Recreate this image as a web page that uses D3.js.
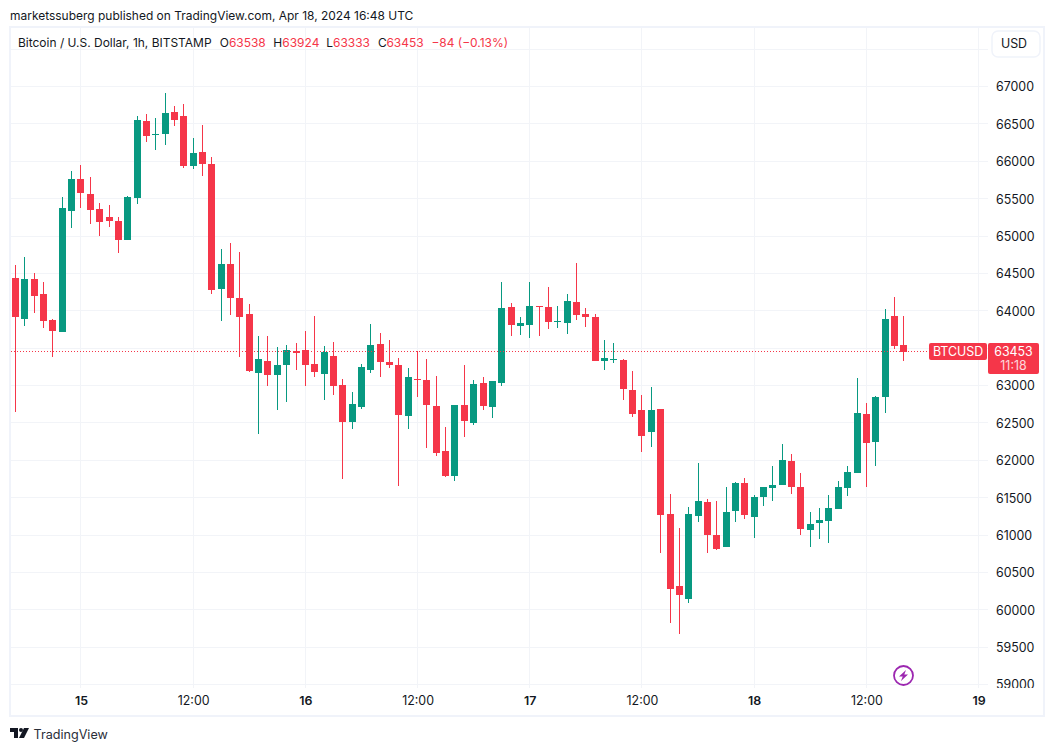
<!DOCTYPE html>
<html><head><meta charset="utf-8">
<script src="https://cdn.jsdelivr.net/npm/d3@7"></script>
<style>
html,body{margin:0;padding:0;background:#fff}
svg{display:block}
text{font-family:Inter,"Liberation Sans",sans-serif;fill:#131722}
</style></head><body>
<svg id="c" width="1054" height="751"></svg>
<script>
const priceTicks=[59000,59500,60000,60500,61000,61500,62000,62500,63000,64000,64500,65000,65500,66000,66500,67000];
const gridOnlyTicks=[63500,67500];
const timeTickBars=[7,19,31,43,55,67,79,91,103];
const timeTickLabels=["15","12:00","16","12:00","17","12:00","18","12:00","19"];
const open=[64437,63888,64423,64223,63875,63715,65332,65760,65560,65359,65252,65199,64945,65506,66536,66349,66362,66656,66603,65934,66121,65961,64289,64624,64169,63955,63166,63327,63140,63273,63461,63474,63287,63153,63394,63006,62511,62712,63206,63554,63313,63273,62591,63086,63073,62725,62123,61789,62739,62498,63033,62712,63033,64049,63795,63808,64058,64049,63848,63835,64116,63955,63915,63327,63340,63340,62939,62672,62377,62685,61281,60318,60145,61254,61442,61001,60841,61322,61696,61242,61509,61630,61670,61991,61643,61068,61162,61188,61349,61630,61830,62619,62245,62846,63929,63538];
const high=[64610,64717,64503,64383,63888,65520,65867,65947,65787,65439,65413,65252,65533,66603,66629,66576,66910,66736,66763,66308,66482,66054,64824,64905,64784,64089,63661,63661,63514,63541,63567,63728,63929,63527,63581,63086,62912,63287,63822,63701,63608,63367,63233,63461,63354,63126,62444,62739,63273,63073,63113,63059,64383,64102,63915,64383,64062,64316,64062,64223,64637,64035,63955,63608,63567,63354,63193,62872,62979,62685,61548,61094,61375,61963,61482,61456,61643,61710,61763,61536,61643,61924,62218,62084,61830,61309,61362,61536,61723,61924,63100,62766,62860,64023,64183,63924];
const low=[62645,63795,63969,63768,63380,63715,65105,65373,65159,64998,65118,64771,64945,65426,66255,66148,66215,66469,65907,65894,65800,64223,63862,63942,63380,63180,62351,62993,62672,62779,63206,62993,63113,62805,62872,61749,62418,62685,63166,63113,63233,61655,62418,62845,62164,62057,61776,61722,62311,62471,62672,62565,62993,63661,63674,63634,63661,63755,63768,63688,63875,63781,63327,63206,63300,62805,62578,62110,62177,60760,59824,59677,60091,61174,60760,60801,60841,61175,61215,60961,61389,61456,61670,61549,61001,60841,60948,60894,61349,61523,61830,61643,61924,62632,63488,63333];
const close=[63915,64423,64196,63862,63728,65373,65760,65573,65346,65185,65199,64945,65520,66549,66335,66362,66643,66549,65934,66108,65961,64276,64624,64169,63915,63193,63354,63140,63273,63474,63434,63273,63180,63447,62993,62511,62752,63247,63541,63313,63273,62605,63113,63073,62739,62097,61789,62739,62525,63019,62725,63059,64035,63808,63835,64062,64044,63848,63862,64129,63942,63915,63327,63367,63354,62952,62618,62324,62672,61268,60278,60198,61281,61455,61001,60814,61309,61696,61269,61509,61643,61670,62004,61643,61081,61148,61202,61362,61643,61843,62632,62231,62846,63889,63528,63453];
const lastClose=63453;

const W=1054,H=751;
const paneL=11,paneR=988,paneT=28,paneB=688;
const RED="#f53649",GREEN="#089981",GRID="#f2f4f8",FRAME="#f0f3fa";
const svg=d3.select("#c");
const x=d3.scaleLinear().domain([0,95]).range([15.5,903.8]);
const y=d3.scaleLinear().domain([59000,67000]).range([684.5,86.5]);

svg.append("clipPath").attr("id","pane").append("rect").attr("x",paneL).attr("y",paneT).attr("width",W-paneL-11).attr("height",paneB-paneT);

// header text
svg.append("text").attr("x",10).attr("y",20).attr("font-size",11.98).text("marketssuberg published on TradingView.com, Apr 18, 2024 16:48 UTC");

// grid
const grid=svg.append("g").attr("clip-path","url(#pane)");
grid.selectAll("line.h").data(priceTicks.concat(gridOnlyTicks)).join("line").attr("class","h")
 .attr("x1",paneL).attr("x2",paneR)
 .attr("y1",d=>Math.floor(y(d))+.5).attr("y2",d=>Math.floor(y(d))+.5)
 .attr("stroke",GRID).attr("stroke-width",1);
grid.selectAll("line.v").data(timeTickBars).join("line").attr("class","v")
 .attr("x1",d=>Math.floor(x(d))+.5).attr("x2",d=>Math.floor(x(d))+.5)
 .attr("y1",paneT).attr("y2",paneB)
 .attr("stroke",GRID).attr("stroke-width",1);

// frame
svg.append("rect").attr("x",10).attr("y",27).attr("width",1034).attr("height",689)
 .attr("fill","none").attr("stroke",FRAME).attr("stroke-width",2);

// candles
const bars=d3.range(open.length);
const col=i=>close[i]>=open[i]?GREEN:RED;
const g=svg.append("g").attr("shape-rendering","crispEdges");
g.selectAll("rect.w").data(bars).join("rect").attr("class","w")
 .attr("x",i=>Math.floor(x(i))).attr("width",1)
 .attr("y",i=>Math.round(y(high[i])))
 .attr("height",i=>Math.max(1,Math.round(y(low[i]))-Math.round(y(high[i]))))
 .attr("fill",col);
g.selectAll("rect.b").data(bars).join("rect").attr("class","b")
 .attr("x",i=>Math.floor(x(i))-3).attr("width",7)
 .attr("y",i=>Math.round(y(Math.max(open[i],close[i]))))
 .attr("height",i=>Math.max(1,Math.round(y(Math.min(open[i],close[i])))-Math.round(y(Math.max(open[i],close[i])))))
 .attr("fill",col);

// last price line
svg.append("line").attr("x1",11).attr("x2",929)
 .attr("y1",Math.floor(y(lastClose))+.5).attr("y2",Math.floor(y(lastClose))+.5)
 .attr("stroke",RED).attr("stroke-width",1).attr("stroke-dasharray","1 2");

// price axis
svg.append("clipPath").attr("id","priceclip").append("rect").attr("x",-10).attr("y",paneT).attr("width",60).attr("height",paneB-paneT);
const yAxis=d3.axisRight(y).tickValues(priceTicks).tickSize(0).tickPadding(0).tickFormat(d3.format("d"));
const ya=svg.append("g").attr("transform","translate(996,0)").call(yAxis);
ya.select(".domain").remove();
ya.selectAll("text").attr("font-size",12.4).attr("fill","#131722").attr("font-family","Inter").attr("x",0).attr("dy","0.36em");
ya.attr("clip-path","url(#priceclip)");

// time axis
const xAxis=d3.axisBottom(x).tickValues(timeTickBars).tickSize(0).tickPadding(0).tickFormat((d,i)=>timeTickLabels[i]);
const xa=svg.append("g").attr("transform","translate(0,696)").call(xAxis);
xa.select(".domain").remove();
xa.selectAll("text").attr("font-size",12.4).attr("fill","#131722").attr("font-family","Inter").attr("y",0).attr("dy","0.71em")
 .attr("font-weight",(d,i)=>timeTickLabels[i].includes(":")?400:600);

// legend
const legend=svg.append("text").attr("x",18).attr("y",47).attr("font-size",11.98);
legend.append("tspan").text("Bitcoin / U.S. Dollar, 1h, BITSTAMP");
[["O","63538",219.7,228.9],["H","63924",273.2,282.3],["L","63333",326.2,333],["C","63453",378,386.4]].forEach(p=>{
  legend.append("tspan").attr("x",p[2]).text(p[0]);
  legend.append("tspan").attr("x",p[3]).style("fill",RED).text(p[1]);
});
legend.append("tspan").attr("x",431.4).style("fill",RED).text("−84 (−0.13%)");

// USD button
svg.append("rect").attr("x",992).attr("y",31).attr("width",48).attr("height",26).attr("rx",6)
 .attr("fill","#fff").attr("stroke",FRAME).attr("stroke-width",1.5);
svg.append("text").attr("x",1014).attr("y",48).attr("text-anchor","middle").attr("font-size",12.4).text("USD");

// last-price tags
svg.append("rect").attr("x",929).attr("y",343).attr("width",58).attr("height",17).attr("rx",2).attr("fill",RED);
svg.append("text").attr("x",958).attr("y",356).attr("text-anchor","middle").attr("font-size",12.4).style("fill","#fff").text("BTCUSD");
svg.append("rect").attr("x",988).attr("y",343).attr("width",51).attr("height",31).attr("rx",2).attr("fill",RED);
const tag=svg.append("text").attr("text-anchor","middle").attr("font-size",12.4).style("fill","#fff");
tag.append("tspan").attr("x",1013.5).attr("y",356).text(d3.format("d")(lastClose));
tag.append("tspan").attr("x",1013.5).attr("y",370).style("opacity",.8).text("11:18");

// lightning icon
const ic=svg.append("g").attr("transform","translate(903.5,675.5)");
ic.append("circle").attr("r",9.5).attr("fill","#fff").attr("stroke","#9c27b0").attr("stroke-width",1.8);
ic.append("path").attr("d","M2.5,-5.5 L-4.5,1 L-0.8,1 L-2.5,5.5 L4.5,-1 L0.8,-1 Z").attr("fill","#9c27b0");

// TradingView logo
const lg=svg.append("g").attr("transform","translate(10,728)").attr("fill","#131722");
lg.append("path").attr("d","M0,0 H8 V10 H4 V4 H0 Z");
lg.append("circle").attr("cx",11).attr("cy",2).attr("r",2);
lg.append("path").attr("d","M14,0 H19 L14,10 H9 Z");
svg.append("text").attr("x",33.5).attr("y",738.5).attr("font-size",12.6).style("fill","#2a2e39").text("TradingView");
</script>
</body></html>
